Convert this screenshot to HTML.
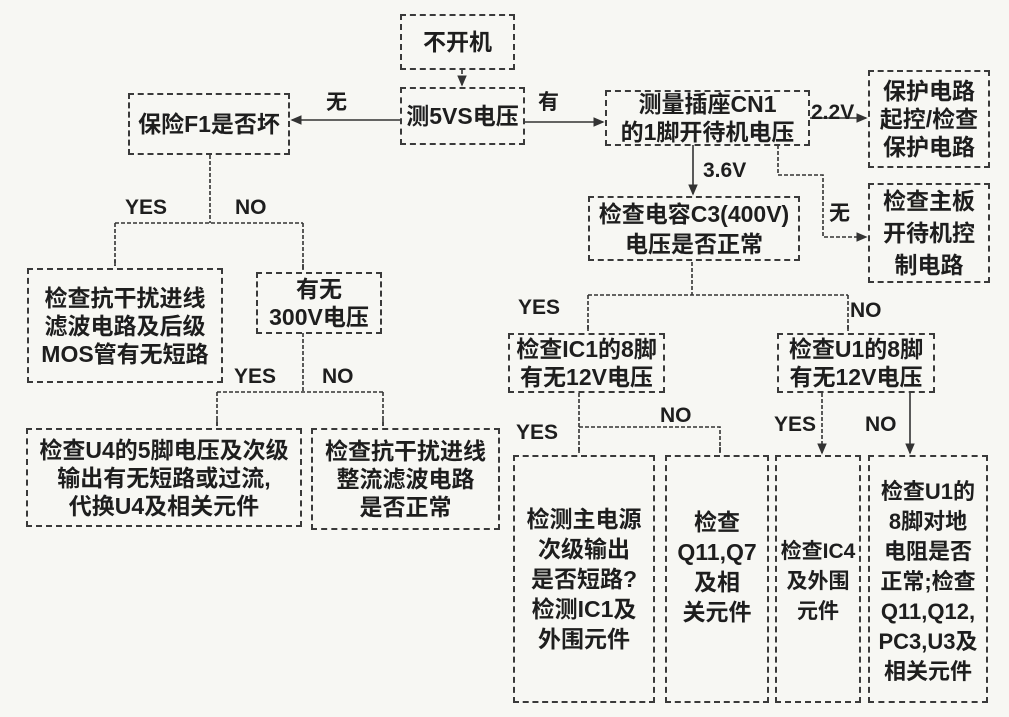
<!DOCTYPE html>
<html><head><meta charset="utf-8"><style>
body{margin:0;background:#f7f7f3;}
#c{position:relative;width:1009px;height:717px;overflow:hidden;background:#f7f7f3;font-family:"Liberation Sans","Noto Sans CJK SC",sans-serif;color:#1e1e1e;}
.b{position:absolute;box-sizing:border-box;border:2px dashed #3a3a3a;display:flex;align-items:center;justify-content:center;text-align:center;font-size:23px;line-height:28px;font-weight:600;white-space:nowrap;}
.tall{line-height:30px;}
.t{position:absolute;font-size:21px;line-height:22px;font-weight:bold;}
svg{position:absolute;left:0;top:0;}
</style></head><body><div id="c">
<svg width="1009" height="717" fill="none" stroke="#333" stroke-width="1.6">
<defs><marker id="a" markerWidth="8" markerHeight="8" refX="6" refY="4" orient="auto"><path d="M0,1 L7,4 L0,7z" fill="#333" stroke="none"/></marker></defs>
<g stroke-dasharray="4,2">
<path d="M462,70 V85" marker-end="url(#a)"/>
<path d="M210,155 V223 M115,223 H303 M115,223 V266 M303,223 V270" />
<path d="M303,333 V392 M217,392 H383 M217,392 V426 M383,392 V426"/>
<path d="M692,262 V295 M588,295 H848 M588,295 V331 M848,295 V331"/>
<path d="M579,393 V453 M579,427 H720 V453"/>
<path d="M822,393 V453"/>
<path d="M778,145 V175 H823 V237 H866" marker-end="url(#a)"/>
</g>
<path d="M400,120 H292" marker-end="url(#a)"/>
<path d="M525,122 H603" marker-end="url(#a)"/>
<path d="M810,118 H866" marker-end="url(#a)"/>
<path d="M693,145 V194" marker-end="url(#a)"/>
<path d="M910,393 V453" marker-end="url(#a)"/>
<path d="M115,260 V266 M303,264 V270 M217,420 V426 M383,420 V426 M588,325 V331 M848,325 V331 M579,447 V453 M720,447 V453 M822,447 V453" marker-end="url(#a)"/>
</svg>
<div class="b" style="left:400px;top:14px;width:115px;height:56px">不开机</div>
<div class="b" style="left:400px;top:87px;width:125px;height:58px">测5VS电压</div>
<div class="b" style="left:128px;top:93px;width:162px;height:62px">保险F1是否坏</div>
<div class="b" style="left:605px;top:90px;width:205px;height:56px">测量插座CN1<br>的1脚开待机电压</div>
<div class="b" style="left:868px;top:70px;width:122px;height:98px">保护电路<br>起控/检查<br>保护电路</div>
<div class="b" style="left:868px;top:183px;width:122px;height:100px;line-height:32px">检查主板<br>开待机控<br>制电路</div>
<div class="b" style="left:588px;top:196px;width:212px;height:65px;line-height:30px">检查电容C3(400V)<br>电压是否正常</div>
<div class="b" style="left:27px;top:268px;width:196px;height:115px">检查抗干扰进线<br>滤波电路及后级<br>MOS管有无短路</div>
<div class="b" style="left:256px;top:272px;width:126px;height:62px">有无<br>300V电压</div>
<div class="b" style="left:508px;top:333px;width:157px;height:60px">检查IC1的8脚<br>有无12V电压</div>
<div class="b" style="left:777px;top:333px;width:158px;height:60px">检查U1的8脚<br>有无12V电压</div>
<div class="b" style="left:26px;top:428px;width:276px;height:99px">检查U4的5脚电压及次级<br>输出有无短路或过流,<br>代换U4及相关元件</div>
<div class="b" style="left:311px;top:428px;width:189px;height:102px">检查抗干扰进线<br>整流滤波电路<br>是否正常</div>
<div class="b tall" style="left:513px;top:455px;width:142px;height:248px">检测主电源<br>次级输出<br>是否短路?<br>检测IC1及<br>外围元件</div>
<div class="b tall" style="left:665px;top:455px;width:104px;height:248px;align-items:flex-start;padding-top:50px">检查<br>Q11,Q7<br>及相<br>关元件</div>
<div class="b tall" style="left:775px;top:455px;width:86px;height:248px;align-items:flex-start;padding-top:80px;font-size:21px">检查IC4<br>及外围<br>元件</div>
<div class="b tall" style="left:868px;top:455px;width:120px;height:248px;align-items:flex-start;padding-top:20px;font-size:22px">检查U1的<br>8脚对地<br>电阻是否<br>正常;检查<br>Q11,Q12,<br>PC3,U3及<br>相关元件</div>
<div class="t" style="left:326px;top:92px">无</div>
<div class="t" style="left:538px;top:92px">有</div>
<div class="t" style="left:811px;top:102px">2.2V</div>
<div class="t" style="left:703px;top:160px">3.6V</div>
<div class="t" style="left:829px;top:203px">无</div>
<div class="t" style="left:125px;top:197px">YES</div>
<div class="t" style="left:235px;top:197px">NO</div>
<div class="t" style="left:234px;top:366px">YES</div>
<div class="t" style="left:322px;top:366px">NO</div>
<div class="t" style="left:518px;top:297px">YES</div>
<div class="t" style="left:850px;top:300px">NO</div>
<div class="t" style="left:516px;top:422px">YES</div>
<div class="t" style="left:660px;top:405px">NO</div>
<div class="t" style="left:774px;top:414px">YES</div>
<div class="t" style="left:865px;top:414px">NO</div>
</div></body></html>
